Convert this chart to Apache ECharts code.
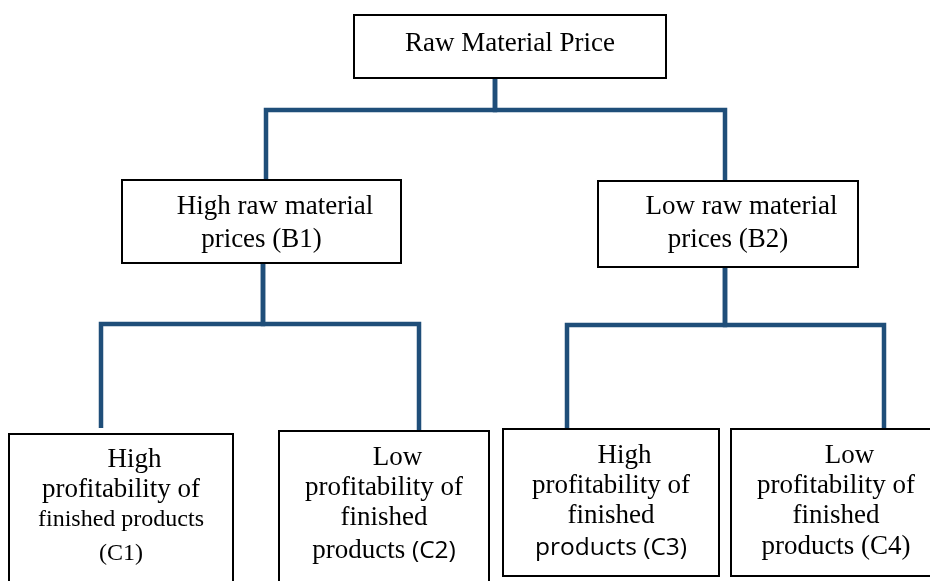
<!DOCTYPE html>
<html>
<head>
<meta charset="utf-8">
<title>Raw Material Price tree</title>
<script src="https://cdn.jsdelivr.net/npm/echarts@6/dist/echarts.min.js"></script>
<style>
  html, body { margin: 0; padding: 0; background: #fff; }
  #chart { width: 930px; height: 581px; }
</style>
</head>
<body>
<div id="chart"></div>
<script>
// ── node labels (rich text) and tree structure ──
const nodeLabels = [
  '{t|Raw Material Price}',
  '{b|    High raw material}\n{b|prices (B1)}',
  '{b|    Low raw material}\n{b|prices (B2)}',
  '{c|    High}\n{c|profitability of}\n{s|finished products}\n{sl|(C1)}',
  '{c|    Low}\n{c|profitability of}\n{c|finished}\n{cl|products }{ol|(C2)}',
  '{c|    High}\n{c|profitability of}\n{c|finished}\n{ol|products (C3)}',
  '{c|    Low}\n{c|profitability of}\n{c|finished}\n{c4|products (C4)}',
];
const parentIndex = [-1, 0, 0, 1, 1, 2, 2];

// ── diagram layout, in canvas units of the hidden axes ──
const boxLeft   = [354, 122, 598,   9, 279, 503, 731];
const boxTop    = [ 15, 180, 181, 434, 431, 429, 429];
const boxRight  = [666, 401, 858, 233, 489, 719, 941];
const boxBottom = [ 78, 263, 267, 600, 600, 576, 576];
const labelPad  = [ 14,  10,   9,  11,  12,  12,  12];
const outX      = [495, 263, 725];          // where a parent's connector leaves
const busY      = [110, 324, 325];          // height of each parent's bar
const inX       = [null, 266, 725, 101, 419, 567, 884];
const inEndY    = [null, 180, 181, 428, 431, 429, 429];

const LINE = '#1f4e79';

const boxData = nodeLabels.map((_, i) => [boxLeft[i], boxTop[i], boxRight[i], boxBottom[i], i]);
const linkData = [];
parentIndex.forEach((p, i) => {
  if (p < 0) return;
  linkData.push([outX[p], boxBottom[p], busY[p], inX[i], inEndY[i]]);
});

const rich = {
  t:  { fontFamily: 'Liberation Serif', fontSize: 27, lineHeight: 30, color: '#111' },
  b:  { fontFamily: 'Liberation Serif', fontSize: 27, lineHeight: 33, color: '#111' },
  c:  { fontFamily: 'Liberation Serif', fontSize: 27, lineHeight: 30, color: '#111' },
  c4: { fontFamily: 'Liberation Serif', fontSize: 27, lineHeight: 32, color: '#111' },
  s:  { fontFamily: 'Liberation Serif', fontSize: 24, lineHeight: 30, color: '#111' },
  sl: { fontFamily: 'Liberation Serif', fontSize: 24, lineHeight: 37, color: '#111' },
  cl: { fontFamily: 'Liberation Serif', fontSize: 27, lineHeight: 36, color: '#111' },
  ol: { fontFamily: 'Open Sans', fontSize: 24.5, lineHeight: 35, color: '#111' },
};

const chart = echarts.init(document.getElementById('chart'));
chart.setOption({
  backgroundColor: '#fff',
  animation: false,
  grid: { left: 0, right: 0, top: 0, bottom: 0 },
  xAxis: { type: 'value', min: 0, max: 930, show: false },
  yAxis: { type: 'value', min: 0, max: 581, inverse: true, show: false },
  series: [
    {
      // connectors: parent drop → bar → child drop
      type: 'custom',
      coordinateSystem: 'cartesian2d',
      data: linkData,
      renderItem: function (params, api) {
        const a = api.coord([api.value(0), api.value(1)]);
        const b = api.coord([api.value(0), api.value(2)]);
        const c = api.coord([api.value(3), api.value(2)]);
        const d = api.coord([api.value(3), api.value(4)]);
        return {
          type: 'polyline',
          shape: { points: [a, b, c, d] },
          style: { stroke: LINE, lineWidth: 4.5, fill: null, lineJoin: 'miter' },
        };
      },
      z: 1,
    },
    {
      // boxes with their labels
      type: 'custom',
      coordinateSystem: 'cartesian2d',
      data: boxData,
      renderItem: function (params, api) {
        const i = api.value(4);
        const p0 = api.coord([api.value(0), api.value(1)]);
        const p1 = api.coord([api.value(2), api.value(3)]);
        return {
          type: 'group',
          children: [
            {
              type: 'rect',
              shape: { x: p0[0], y: p0[1], width: p1[0] - p0[0], height: p1[1] - p0[1] },
              style: { fill: '#fff', stroke: '#000', lineWidth: 2 },
            },
            {
              type: 'text',
              x: (p0[0] + p1[0]) / 2,
              y: p0[1] + labelPad[i],
              style: {
                text: nodeLabels[i],
                rich: rich,
                align: 'center',
                verticalAlign: 'top',
              },
            },
          ],
        };
      },
      z: 2,
    },
  ],
});
</script>
</body>
</html>
